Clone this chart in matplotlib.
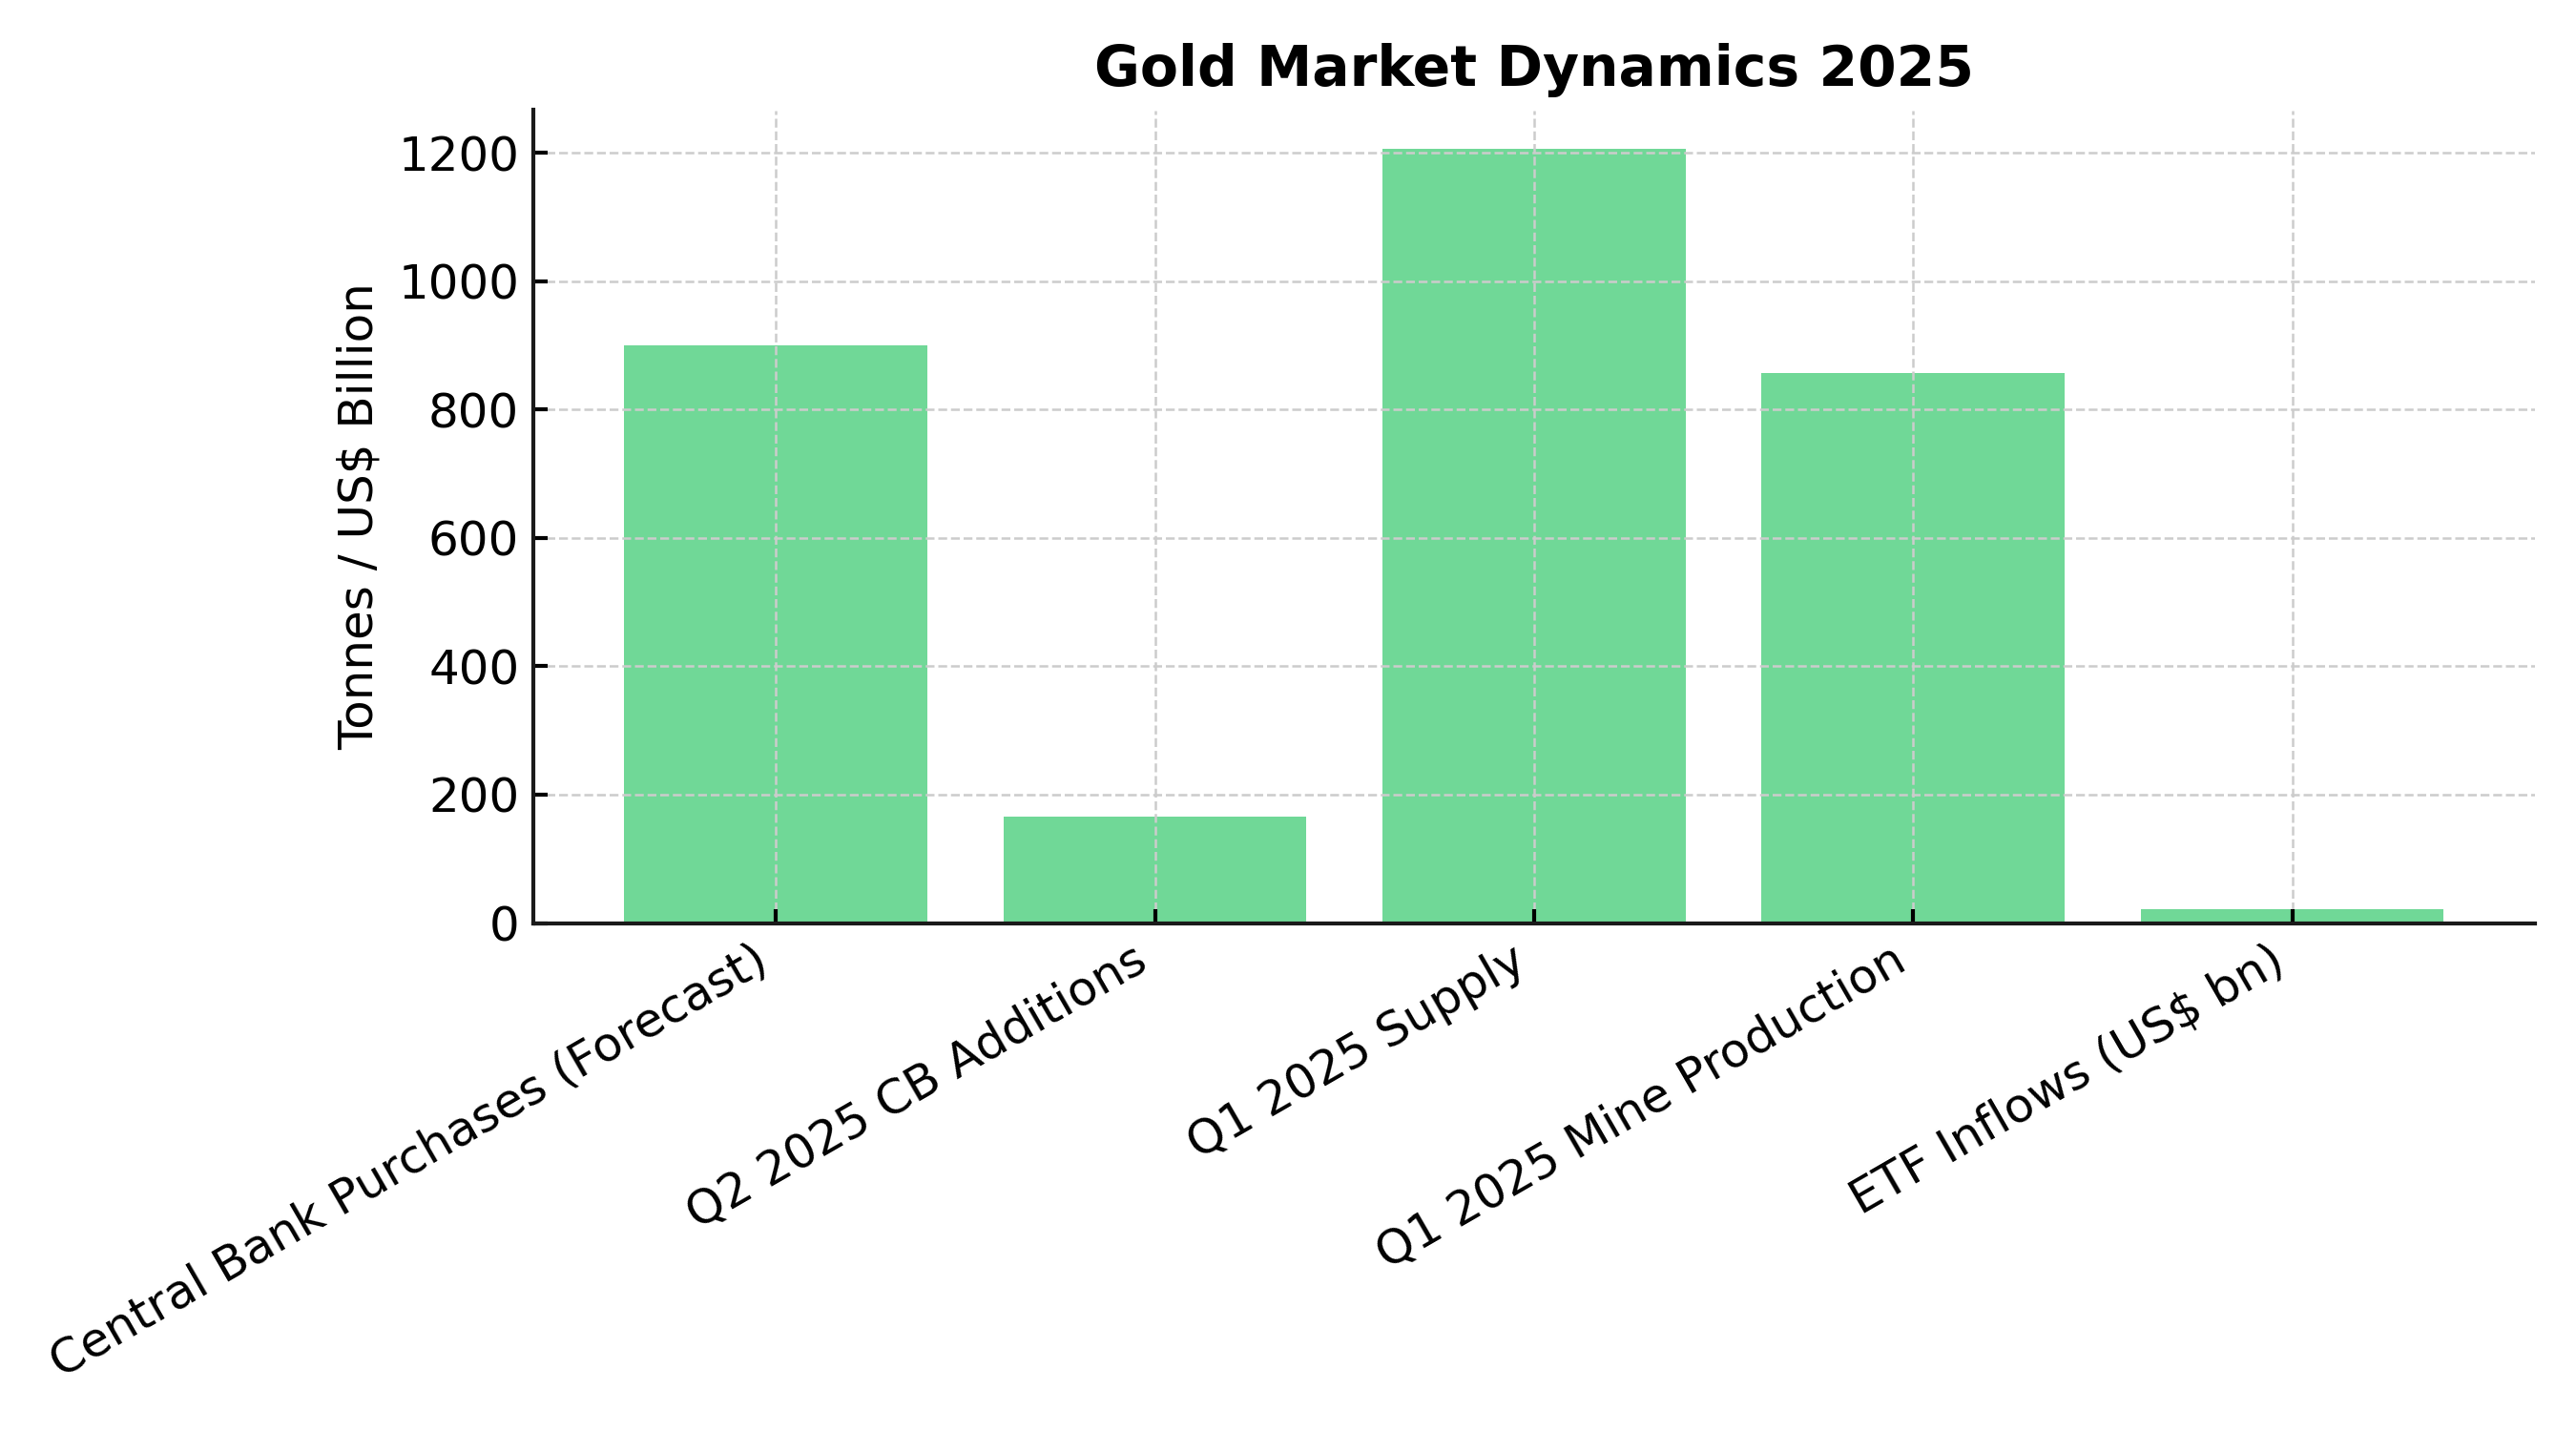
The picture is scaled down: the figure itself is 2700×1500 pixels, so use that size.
import numpy as np
import matplotlib
matplotlib.use("Agg")
import matplotlib.pyplot as plt

categories = ["Central Bank Purchases (Forecast)", "Q2 2025 CB Additions",
              "Q1 2025 Supply", "Q1 2025 Mine Production", "ETF Inflows (US$ bn)"]
values = [900, 166, 1206, 857, 22]

plt.rcParams.update({'font.size': 12})

fig = plt.figure(figsize=(9, 5), dpi=300)
ax = fig.add_axes([0.207, 0.355, 0.777, 0.568])

ax.bar(categories, values, color='#70D897', width=0.8)

ax.set_axisbelow(False)
ax.grid(True, linestyle='--', color='#cccccc', linewidth=0.6)
ax.tick_params(direction='in', length=3.5, width=1.0)
for s in ['top', 'right']:
    ax.spines[s].set_visible(False)
for s in ['left', 'bottom']:
    ax.spines[s].set_linewidth(1.0)
    ax.spines[s].set_color('#1a1a1a')
    ax.spines[s].set_zorder(5)

ax.set_title("Gold Market Dynamics 2025", fontsize=14, fontweight='bold')
ax.set_ylabel("Tonnes / US$ Billion", fontsize=12)
plt.setp(ax.get_xticklabels(), rotation=30, ha='right')

fig.savefig("out.png", dpi=300)
